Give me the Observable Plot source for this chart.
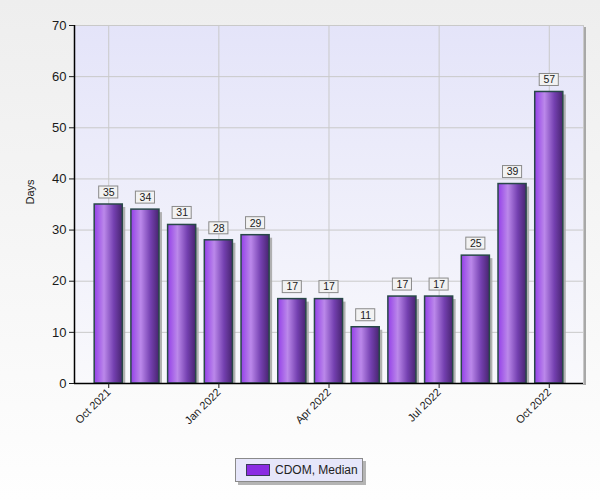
<!DOCTYPE html>
<html><head><meta charset="utf-8">
<script src="https://cdn.jsdelivr.net/npm/d3@7"></script>
<script src="https://cdn.jsdelivr.net/npm/@observablehq/plot@0.6"></script>
<style>
html,body{margin:0;padding:0;}
body{width:600px;height:500px;background:linear-gradient(#eeeeee,#fefefe);font-family:"Liberation Sans",Arial,sans-serif;overflow:hidden;position:relative;}
#chart svg{display:block;background:transparent;}
#legend{position:absolute;left:235px;top:458px;width:128px;height:24px;background:#e6e6fa;border:1px solid #8a8a8a;box-shadow:3px 3px 0 #b4b4b4;display:flex;align-items:center;font-size:12px;color:#222;box-sizing:border-box;}
.sw{width:22px;height:10px;background:#8a2be2;border:1px solid #3a3a5a;margin:0 5px 0 10px;}
</style></head><body>
<div id="chart"></div>
<div id="legend"><span class="sw"></span>CDOM, Median</div>
<script>
const months = ["Oct 2021","Nov 2021","Dec 2021","Jan 2022","Feb 2022","Mar 2022","Apr 2022","May 2022","Jun 2022","Jul 2022","Aug 2022","Sep 2022","Oct 2022"];
const values = [35, 34, 31, 28, 29, 16.5, 16.5, 11, 17, 17, 25, 39, 57];
const labels = [35, 34, 31, 28, 29, 17, 17, 11, 17, 17, 25, 39, 57];
const tickMonths = ["Oct 2021","Jan 2022","Apr 2022","Jul 2022","Oct 2022"];
const yTicks = [0, 10, 20, 30, 40, 50, 60, 70];
const yLabel = "Days";

const data = months.map((m, i) => ({month: m, value: values[i], label: labels[i]}));

function backdrop(index, scales, vals, dim) {
  const g = d3.create("svg:g");
  const defs = g.append("defs");
  const pb = defs.append("linearGradient").attr("id", "plotbg").attr("x1", 0).attr("y1", 0).attr("x2", 0).attr("y2", 1);
  pb.append("stop").attr("offset", 0).attr("stop-color", "#e4e4f9");
  pb.append("stop").attr("offset", 1).attr("stop-color", "#f9f9fc");
  const bg = defs.append("linearGradient").attr("id", "bargrad").attr("x1", 0).attr("y1", 0).attr("x2", 1).attr("y2", 0);
  bg.append("stop").attr("offset", 0).attr("stop-color", "#9440e8");
  bg.append("stop").attr("offset", 0.35).attr("stop-color", "#bb88ea");
  bg.append("stop").attr("offset", 0.7).attr("stop-color", "#7440b0");
  bg.append("stop").attr("offset", 1).attr("stop-color", "#482470");
  const w = dim.width - dim.marginLeft - dim.marginRight;
  const h = dim.height - dim.marginTop - dim.marginBottom;
  g.append("rect").attr("x", dim.marginLeft + w).attr("y", dim.marginTop + 2).attr("width", 3).attr("height", h).attr("fill", "#a8a8a8");
  g.append("rect").attr("x", dim.marginLeft).attr("y", dim.marginTop).attr("width", w).attr("height", h).attr("fill", "url(#plotbg)");
  return g.node();
}

function axisLines(index, scales, vals, dim) {
  const g = d3.create("svg:g");
  const x0 = dim.marginLeft, y0 = dim.marginTop, y1 = dim.height - dim.marginBottom;
  g.append("line").attr("x1", x0 + 0.5).attr("x2", x0 + 0.5).attr("y1", y0).attr("y2", y1).attr("stroke", "#000").attr("stroke-width", 1.5);
  return g.node();
}

const chart = Plot.plot({
  width: 600,
  height: 445,
  marginTop: 25,
  marginLeft: 74,
  marginRight: 17,
  marginBottom: 62,
  style: {fontFamily: "'Liberation Sans', Arial, sans-serif", background: "transparent", color: "#1a1a1a"},
  x: {type: "band", domain: months, paddingInner: 0.235, paddingOuter: 0.55, round: false, label: null},
  y: {domain: [0, 70], label: null},
  marks: [
    backdrop,
    Plot.gridY(yTicks, {stroke: "#c9c9c9", strokeOpacity: 1}),
    Plot.gridX(tickMonths, {stroke: "#c9c9c9", strokeOpacity: 1}),
    Plot.frame({stroke: "#c9c9c9"}),
    Plot.barY(data, {x: "month", y: "value", fill: "#a8a8a8", fillOpacity: 0.9, dx: 3, insetTop: 3}),
    Plot.barY(data, {x: "month", y: "value", fill: "#9a55e0", stroke: "#284848", strokeWidth: 1.5}),
    Plot.barY(data, {x: "month", y1: "value", y2: "value", insetTop: -18, insetBottom: 6, insetLeft: 4.5, insetRight: 4.5, fill: "#f2f2f2", stroke: "#8a8a8a", strokeWidth: 1}),
    Plot.text(data, {x: "month", y: "value", text: "label", dy: -12, fontSize: 10.5, fill: "#1a1a1a"}),
    Plot.ruleY([0], {stroke: "#000", strokeWidth: 1.5}),
    axisLines,
    Plot.axisY({ticks: yTicks, tickSize: 5, tickPadding: 3, fontSize: 13, label: null}),
    Plot.axisX({ticks: tickMonths, tickRotate: -45, tickSize: 5, tickPadding: 2, fontSize: 11, label: null}),
    Plot.text([yLabel], {frameAnchor: "left", rotate: -90, dx: -44, fontSize: 11, fill: "#1a1a1a"})
  ]
});
d3.select(chart).selectAll('g[aria-label="bar"]').filter((d, i) => i === 1).selectAll("rect").attr("fill", "url(#bargrad)");
document.getElementById("chart").appendChild(chart);
</script>
</body></html>
